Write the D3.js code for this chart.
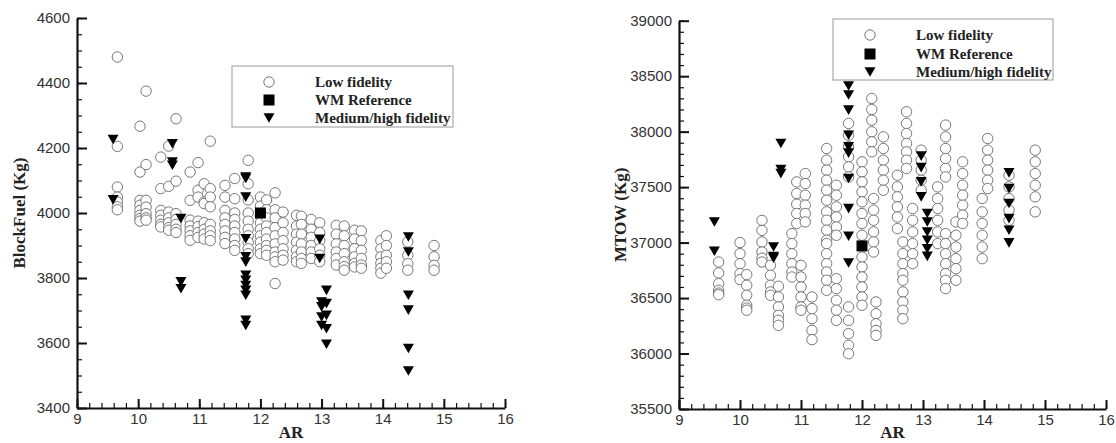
<!DOCTYPE html>
<html>
<head>
<meta charset="utf-8">
<script src="https://cdn.jsdelivr.net/npm/d3@7"></script>
<style>
  html, body { margin: 0; padding: 0; background: #fff; }
  svg { display: block; }
</style>
</head>
<body>
<svg id="chart" width="1116" height="443"></svg>
<script>
// ---------------- DATA ----------------
const arTicks = [9, 10, 11, 12, 13, 14, 15, 16];
const blockFuelTicks = [3400, 3600, 3800, 4000, 4200, 4400, 4600];
const mtowTicks = [35500, 36000, 36500, 37000, 37500, 38000, 38500, 39000];
const legendLabels = ["Low fidelity", "WM Reference", "Medium/high fidelity"];

// Low fidelity, BlockFuel: [AR, [values]]
const lowBlockFuel = [
  [9.66, [4480, 4205, 4080, 4049, 4034, 4019, 4010]],
  [10.03, [4267, 4126, 4039, 4024, 4008, 3993, 3983, 3975]],
  [10.13, [4375, 4149, 4039, 4018, 3998, 3985, 3978]],
  [10.37, [4172, 4075, 4008, 3993, 3978, 3965, 3957]],
  [10.5, [4206, 4082, 4003, 3985, 3970, 3955, 3947]],
  [10.62, [4290, 4098, 3998, 3980, 3965, 3950, 3940]],
  [10.85, [4126, 4039, 3978, 3960, 3945, 3930, 3916]],
  [10.98, [4155, 4070, 4049, 3975, 3958, 3940, 3925]],
  [11.08, [4090, 4034, 4029, 3970, 3950, 3935, 3920]],
  [11.18, [4221, 4075, 4049, 4019, 3965, 3945, 3930, 3915]],
  [11.42, [4085, 4049, 4008, 3985, 3965, 3945, 3925, 3906]],
  [11.58, [4106, 4044, 4000, 3980, 3960, 3940, 3920, 3900, 3885]],
  [11.8, [4162, 4090, 4040, 4000, 3975, 3950, 3930, 3910, 3890, 3875]],
  [12.0, [4049, 4021, 3990, 3970, 3950, 3930, 3910, 3890, 3875]],
  [12.1, [4040, 4010, 3985, 3960, 3940, 3920, 3900, 3885, 3870]],
  [12.24, [4062, 4010, 3985, 3955, 3930, 3905, 3880, 3865, 3850, 3783]],
  [12.37, [4003, 3970, 3940, 3915, 3890, 3870, 3855]],
  [12.59, [3993, 3960, 3935, 3910, 3885, 3865, 3850]],
  [12.67, [3990, 3965, 3935, 3905, 3880, 3860, 3845]],
  [12.83, [3980, 3950, 3925, 3900, 3880, 3860]],
  [12.97, [3970, 3940, 3915, 3890, 3870, 3850]],
  [13.24, [3962, 3935, 3905, 3880, 3860, 3840]],
  [13.37, [3960, 3930, 3900, 3875, 3850, 3835, 3824]],
  [13.54, [3947, 3920, 3890, 3865, 3845, 3834]],
  [13.65, [3945, 3915, 3885, 3860, 3840, 3830]],
  [13.97, [3915, 3890, 3865, 3845, 3830, 3815]],
  [14.06, [3930, 3900, 3870, 3850, 3830]],
  [14.41, [3911, 3870, 3844, 3824]],
  [14.84, [3900, 3865, 3839, 3824]]
];

// Medium/high fidelity, BlockFuel
const midBlockFuel = [
  [9.59, [4226, 4041]],
  [10.56, [4213, 4157, 4147]],
  [10.7, [3983, 3788, 3767]],
  [11.76, [4111, 4106, 4049, 3921, 3865, 3849, 3808, 3793, 3777, 3762, 3747, 3670, 3654]],
  [12.97, [3919, 3860]],
  [13.0, [3726, 3711, 3680, 3654]],
  [13.08, [3762, 3721, 3685, 3644, 3596]],
  [14.42, [3926, 3880, 3747, 3701, 3583, 3514]]
];

// WM reference, BlockFuel
const refBlockFuel = [[12.0, [4000]]];

// Low fidelity, MTOW
const lowMTOW = [
  [9.65, [36825, 36726, 36630, 36570, 36545, 36530]],
  [10.0, [37000, 36900, 36810, 36720, 36666]],
  [10.11, [36711, 36615, 36525, 36435, 36410, 36390]],
  [10.36, [37200, 37110, 37006, 36915, 36860, 36825]],
  [10.5, [36795, 36705, 36615, 36555, 36525]],
  [10.63, [36606, 36510, 36420, 36344, 36300, 36254]],
  [10.85, [37081, 36991, 36900, 36810, 36735, 36690]],
  [10.93, [37547, 37442, 37346, 37262, 37172]],
  [11.0, [36795, 36690, 36600, 36510, 36420, 36390]],
  [11.07, [37622, 37532, 37427, 37337, 37262, 37186]],
  [11.18, [36510, 36405, 36314, 36209, 36125]],
  [11.42, [37848, 37743, 37653, 37562, 37472, 37382, 37277, 37201, 37111, 37021, 36991, 36900, 36810, 36735, 36660, 36570]],
  [11.58, [37517, 37427, 37322, 37231, 37141, 37066, 36675, 36585, 36480, 36390, 36299]],
  [11.78, [38074, 37968, 37863, 37773, 37683, 37592, 36420, 36299, 36179, 36074, 35998]],
  [12.0, [37728, 37638, 37547, 37457, 37367, 37262, 37172, 37066, 36870, 36780, 36690, 36600, 36510, 36435]],
  [12.16, [38299, 38200, 38104, 37999, 37908, 37818]],
  [12.19, [37397, 37292, 37201, 37096, 37006, 36915]],
  [12.23, [36465, 36359, 36269, 36209, 36164]],
  [12.35, [37953, 37848, 37743, 37653, 37562, 37472]],
  [12.58, [37607, 37502, 37412, 37322, 37231, 37126]],
  [12.67, [37006, 36900, 36810, 36720, 36660, 36555, 36465, 36390, 36314]],
  [12.73, [38179, 38074, 37983, 37893, 37818, 37743, 37668]],
  [12.83, [37307, 37201, 37096, 36991, 36900, 36810]],
  [12.97, [37833, 37743, 37653, 37562, 37472]],
  [13.24, [37502, 37397, 37307, 37201, 37096, 36991]],
  [13.37, [38059, 37953, 37848, 37758, 37668, 37592, 37081, 36991, 36900, 36810, 36720, 36660, 36585]],
  [13.54, [37186, 37066, 36960, 36855, 36765, 36660]],
  [13.65, [37728, 37622, 37517, 37427, 37337, 37247, 37172]],
  [13.97, [37397, 37277, 37172, 37066, 36960, 36855]],
  [14.06, [37938, 37833, 37743, 37653, 37562, 37487]],
  [14.41, [37607, 37502, 37397, 37292, 37201]],
  [14.84, [37833, 37728, 37622, 37517, 37412, 37277]]
];

// Medium/high fidelity, MTOW
const midMTOW = [
  [9.58, [37186, 36922]],
  [10.55, [36960, 36875, 36860]],
  [10.67, [37893, 37658, 37622]],
  [11.78, [38411, 38330, 38194, 37968, 37863, 37806, 37577, 37306, 37057, 36816]],
  [12.97, [37779, 37676, 37547, 37412]],
  [13.07, [37262, 37186, 37096, 37021, 36945, 36876]],
  [14.41, [37628, 37487, 37352, 37216, 37111, 36997]]
];

// WM reference, MTOW
const refMTOW = [[12.0, [36970]]];

// ---------------- DRAWING ----------------
const svg = d3.select("#chart");
const flatten = cols => cols.flatMap(([ar, vals]) => vals.map(v => ({ar, v})));
const triPath = "M-5.5,-4.8L5.5,-4.8L0,4.8Z";

function drawPanel(cfg) {
  const x = d3.scaleLinear().domain([9, 16]).range([cfg.x0, cfg.x1]);
  const y = d3.scaleLinear().domain(cfg.yDomain).range([cfg.y0, cfg.y1]);
  const g = svg.append("g");

  // minor ticks
  const xMinor = d3.range(90, 161, 2).map(d => d / 10);
  const yMinor = d3.range(cfg.yDomain[0], cfg.yDomain[1] + 1, cfg.yMinorStep);
  g.append("g").attr("transform", `translate(0,${cfg.y0})`)
    .call(d3.axisBottom(x).tickValues(xMinor).tickSize(-5).tickSizeOuter(0).tickFormat(""))
    .call(s => s.select(".domain").remove())
    .call(s => s.selectAll("line").attr("stroke", "#111").attr("stroke-width", 1.2));
  g.append("g").attr("transform", `translate(${cfg.x0},0)`)
    .call(d3.axisLeft(y).tickValues(yMinor).tickSize(-5).tickSizeOuter(0).tickFormat(""))
    .call(s => s.select(".domain").remove())
    .call(s => s.selectAll("line").attr("stroke", "#111").attr("stroke-width", 1.2));

  // major axes
  const xAxis = g.append("g").attr("transform", `translate(0,${cfg.y0})`)
    .call(d3.axisBottom(x).tickValues(arTicks).tickSize(-9).tickSizeOuter(0).tickPadding(5).tickFormat(d3.format("d")));
  const yAxis = g.append("g").attr("transform", `translate(${cfg.x0},0)`)
    .call(d3.axisLeft(y).tickValues(cfg.yTicks).tickSize(-10).tickSizeOuter(0).tickPadding(7).tickFormat(d3.format("d")));
  [xAxis, yAxis].forEach(a => {
    a.select(".domain").attr("stroke", "#111").attr("stroke-width", 2.2);
    a.selectAll(".tick line").attr("stroke", "#111").attr("stroke-width", 2);
    a.selectAll(".tick text").attr("fill", "#333")
      .style("font-family", "'Liberation Sans', Arial, sans-serif").style("font-size", "15px");
  });

  // axis titles
  g.append("text")
    .attr("x", (cfg.x0 + cfg.x1) / 2).attr("y", 438)
    .attr("text-anchor", "middle")
    .style("font-family", "'Liberation Serif', 'Times New Roman', serif")
    .style("font-weight", "bold").style("font-size", "17px").attr("fill", "#222")
    .text("AR");
  g.append("text")
    .attr("transform", `translate(${cfg.titleX},${(cfg.y0 + cfg.y1) / 2}) rotate(-90)`)
    .attr("text-anchor", "middle").attr("dy", "0.35em")
    .style("font-family", "'Liberation Serif', 'Times New Roman', serif")
    .style("font-weight", "bold").style("font-size", "17px").attr("fill", "#222")
    .text(cfg.yTitle);

  // marks
  g.append("g").selectAll("circle").data(flatten(cfg.low)).join("circle")
    .attr("cx", d => x(d.ar)).attr("cy", d => y(d.v)).attr("r", 5.2)
    .attr("fill", "#fff").attr("stroke", "#777").attr("stroke-width", 1);
  g.append("g").selectAll("path").data(flatten(cfg.mid)).join("path")
    .attr("d", triPath)
    .attr("transform", d => `translate(${x(d.ar)},${y(d.v)})`)
    .attr("fill", "#000");
  g.append("g").selectAll("rect").data(flatten(cfg.ref)).join("rect")
    .attr("x", d => x(d.ar) - 5.5).attr("y", d => y(d.v) - 5.5)
    .attr("width", 11).attr("height", 11).attr("fill", "#000");

  // legend
  const L = cfg.legend;
  const lg = g.append("g");
  lg.append("rect").attr("x", L.x).attr("y", L.y).attr("width", L.w).attr("height", L.h)
    .attr("fill", "#fff").attr("stroke", "#999").attr("stroke-width", 1);
  legendLabels.forEach((lab, i) => {
    const cy = L.y + L.rowY[i];
    if (i === 0) lg.append("circle").attr("cx", L.symX).attr("cy", cy).attr("r", 5.2)
      .attr("fill", "#fff").attr("stroke", "#777");
    if (i === 1) lg.append("rect").attr("x", L.symX - 5.5).attr("y", cy - 5.5)
      .attr("width", 11).attr("height", 11).attr("fill", "#000");
    if (i === 2) lg.append("path").attr("d", triPath)
      .attr("transform", `translate(${L.symX},${cy})`).attr("fill", "#000");
    lg.append("text").attr("x", L.textX).attr("y", cy).attr("dy", "0.35em")
      .style("font-family", "'Liberation Serif', 'Times New Roman', serif")
      .style("font-weight", "bold").style("font-size", "15px").attr("fill", "#222")
      .text(lab);
  });
}

drawPanel({
  x0: 77, x1: 505, y0: 408, y1: 18,
  yDomain: [3400, 4600], yTicks: blockFuelTicks, yMinorStep: 50,
  yTitle: "BlockFuel (Kg)", titleX: 19,
  low: lowBlockFuel, mid: midBlockFuel, ref: refBlockFuel,
  legend: {x: 232, y: 66, w: 221, h: 61, rowY: [16, 34, 52], symX: 269, textX: 315}
});

drawPanel({
  x0: 679, x1: 1106, y0: 409, y1: 20.7,
  yDomain: [35500, 39000], yTicks: mtowTicks, yMinorStep: 100,
  yTitle: "MTOW (Kg)", titleX: 620,
  low: lowMTOW, mid: midMTOW, ref: refMTOW,
  legend: {x: 833, y: 19, w: 220, h: 61, rowY: [16, 35, 53], symX: 870, textX: 916}
});
</script>
</body>
</html>
